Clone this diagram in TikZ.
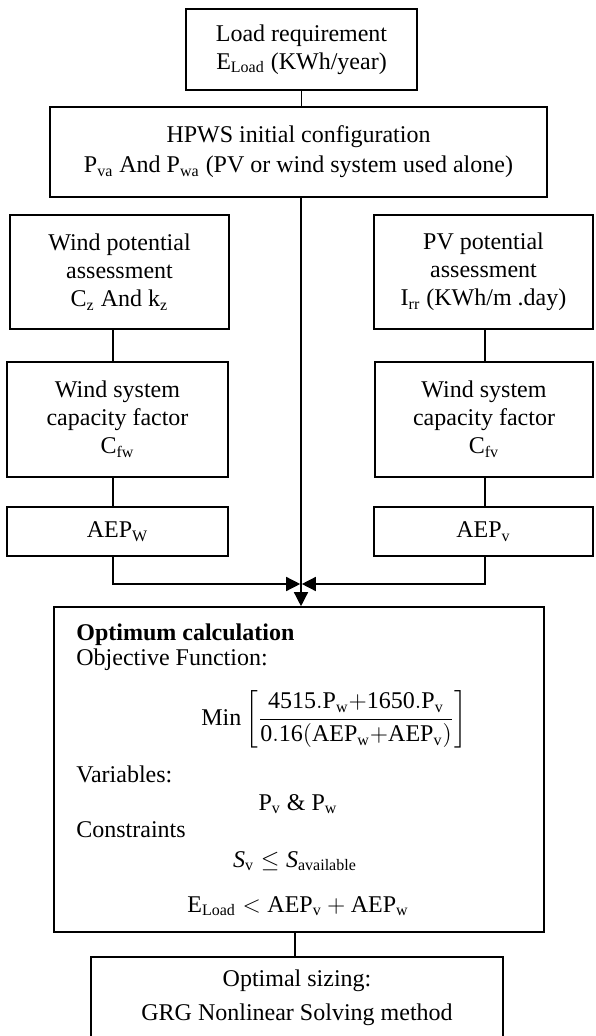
\documentclass[tikz,border=0pt]{standalone}
\usepackage{amsmath}
\usepackage{fontspec}
\setmainfont{Liberation Serif}
\usetikzlibrary{arrows.meta}
\begin{document}
\begin{tikzpicture}[x=0.5pt,y=-0.5pt,
  stepbox/.style={draw,line width=0.8pt,align=center,inner sep=2pt,
    font=\fontsize{12}{14}\selectfont},
  link/.style={line width=0.7pt},
  arr/.style={line width=0.7pt,-{Triangle[length=7pt,width=7pt]}},
  txt/.style={inner sep=0pt,font=\fontsize{12}{14}\selectfont}]
  \useasboundingbox (0,0) rectangle (595,1036);
  \node[stepbox,minimum width=115.5pt,minimum height=40.5pt] (load) at (301.5,49.5)
    {Load requirement\\$\mathrm{E_{Load}}$ (KWh/year)};
  \node[stepbox,minimum width=248.5pt,minimum height=45pt] (hpws) at (298.5,152)
    {HPWS initial configuration\\[1pt]$\mathrm{P_{va}}$ And $\mathrm{P_{wa}}$ (PV or wind system used alone)};
  \node[stepbox,minimum width=109.5pt,minimum height=57pt] (windpot) at (119.5,272)
    {Wind potential\\assessment\\$\mathrm{C_z}$ And $\mathrm{k_z}$};
  \node[stepbox,minimum width=109.5pt,minimum height=57pt] (pvpot) at (483.5,272)
    {PV potential\\assessment\\$\mathrm{I_{rr}}$ (KWh/m .day)};
  \node[stepbox,minimum width=110.5pt,minimum height=57.5pt] (windcf) at (117.5,419.5)
    {Wind system\\capacity factor\\$\mathrm{C_{fw}}$};
  \node[stepbox,minimum width=109pt,minimum height=57.5pt] (pvcf) at (484,419.5)
    {Wind system\\capacity factor\\$\mathrm{C_{fv}}$};
  \node[stepbox,minimum width=110.5pt,minimum height=24.5pt] (aepw) at (117.5,531.5)
    {AEP\textsubscript{W}};
  \node[stepbox,minimum width=109.5pt,minimum height=24.5pt] (aepv) at (483.5,531.5)
    {AEP\textsubscript{v}};
  \node[stepbox,minimum width=245pt,minimum height=162.5pt] (optim) at (299,769.5) {};
  \node[stepbox,minimum width=206pt,minimum height=41pt] (sizing) at (297,998)
    {Optimal sizing:\\[3pt]GRG Nonlinear Solving method};
  % optimum calculation content
  \node[txt,anchor=base west] (opttitle) at (76,640) {\bfseries Optimum calculation};
  \node[txt,anchor=base west] (objfun) at (76,665) {Objective Function:};
  \node[txt,anchor=base] (mineq) at (334,725)
    {$\mathrm{Min}\left[\dfrac{\mathrm{4515.P_w{+}1650.P_v}}{\mathrm{0.16(AEP_w{+}AEP_v)}}\right]$};
  \node[txt,anchor=base west] (varlabel) at (76,782) {Variables:};
  \node[txt,anchor=base] (vareq) at (298,810) {$\mathrm{P_v}$ \& $\mathrm{P_w}$};
  \node[txt,anchor=base west] (conslabel) at (76,837) {Constraints};
  \node[txt,anchor=base] (conss) at (295,867) {$\mathit{S}_{\mathrm{v}}\le\mathit{S}_{\mathrm{available}}$};
  \node[txt,anchor=base] (conse) at (298,912) {$\mathrm{E_{Load}<AEP_v+AEP_w}$};
  % connectors
  \coordinate (merge) at (301,584);
  \coordinate (wcol) at (113,0);
  \coordinate (vcol) at (485,0);
  \coordinate (scol) at (295,0);
  \draw[link] (load) -- (load |- hpws.north);
  \draw[link] (windpot.south -| wcol) -- (windcf.north -| wcol);
  \draw[link] (windcf.south -| wcol) -- (aepw.north -| wcol);
  \draw[link] (pvpot.south -| vcol) -- (pvcf.north -| vcol);
  \draw[link] (pvcf.south -| vcol) -- (aepv.north -| vcol);
  \draw[arr] (merge |- hpws.south) -- (merge |- optim.north);
  \draw[arr] (aepw.south -| wcol) |- ([xshift=-0.4pt]merge);
  \draw[arr] (aepv.south -| vcol) |- ([xshift=0.4pt]merge);
  \draw[link] (optim.south -| scol) -- (sizing.north -| scol);
\end{tikzpicture}
\end{document}
